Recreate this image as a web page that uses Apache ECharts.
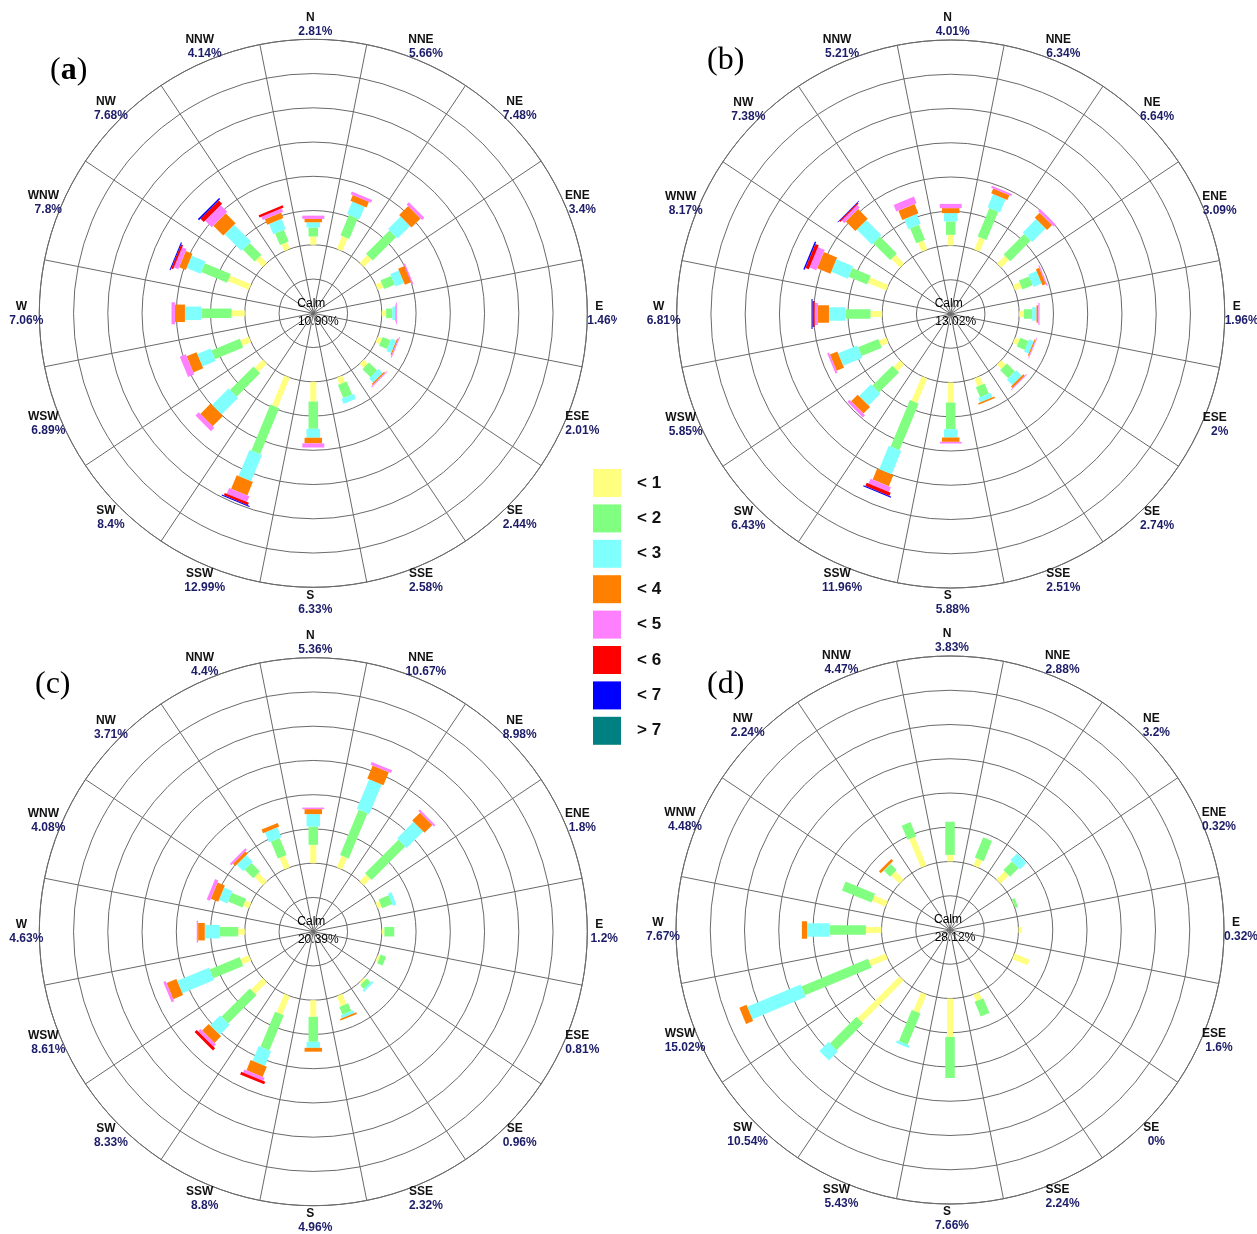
<!DOCTYPE html>
<html>
<head>
<meta charset="utf-8">
<script src="https://cdn.jsdelivr.net/npm/echarts@6/dist/echarts.min.js"></script>
<style>
  html, body { margin: 0; padding: 0; background: #ffffff; }
  #chart { width: 1257px; height: 1234px; }
</style>
</head>
<body>
<div id="chart"></div>
<script>
// 16 compass sectors, clockwise from north
const directions = ['N', 'NNE', 'NE', 'ENE', 'E', 'ESE', 'SE', 'SSE',
                    'S', 'SSW', 'SW', 'WSW', 'W', 'WNW', 'NW', 'NNW'];

// wind speed classes (m/s)
const speedClasses = ['< 1', '< 2', '< 3', '< 4', '< 5', '< 6', '< 7', '> 7'];

// frequency (%) per direction (rows, N..NNW) and speed class (columns)
const freqA = [
  [0.80, 0.87, 0.50, 0.32, 0.32, 0, 0, 0],
  [1.35, 2.13, 1.30, 0.60, 0.28, 0, 0, 0],
  [1.04, 3.20, 1.70, 1.23, 0.31, 0, 0, 0],
  [0.60, 1.10, 0.90, 0.65, 0.15, 0, 0, 0],
  [0.42, 0.60, 0.30, 0.06, 0.08, 0, 0, 0],
  [0.45, 0.85, 0.50, 0.11, 0.10, 0, 0, 0],
  [0.55, 1.10, 0.55, 0.14, 0.10, 0, 0, 0],
  [0.70, 1.35, 0.53, 0, 0, 0, 0, 0],
  [1.90, 2.63, 0.86, 0.54, 0.40, 0, 0, 0],
  [3.10, 4.80, 2.75, 1.40, 0.60, 0.25, 0.09, 0],
  [1.10, 3.20, 2.25, 1.40, 0.45, 0, 0, 0],
  [0.90, 2.95, 1.38, 1.03, 0.63, 0, 0, 0],
  [1.28, 2.89, 1.60, 0.96, 0.33, 0, 0, 0],
  [2.20, 2.70, 1.45, 0.70, 0.45, 0.20, 0.10, 0],
  [0.93, 1.60, 2.30, 1.35, 0.90, 0.45, 0.15, 0],
  [0.70, 1.22, 1.06, 0.58, 0.35, 0.23, 0, 0]
];
const freqB = [
  [1.03, 1.29, 0.80, 0.48, 0.41, 0, 0, 0],
  [1.30, 2.96, 1.38, 0.50, 0.20, 0, 0, 0],
  [1.06, 2.80, 1.83, 0.68, 0.27, 0, 0, 0],
  [0.70, 1.06, 0.87, 0.35, 0.11, 0, 0, 0],
  [0.45, 0.80, 0.42, 0.17, 0.12, 0, 0, 0],
  [0.48, 0.85, 0.47, 0.12, 0.08, 0, 0, 0],
  [0.60, 1.10, 0.75, 0.20, 0.09, 0, 0, 0],
  [0.85, 1.05, 0.45, 0.16, 0, 0, 0, 0],
  [1.93, 2.57, 0.80, 0.42, 0.16, 0, 0, 0],
  [2.57, 4.85, 2.44, 1.16, 0.50, 0.34, 0.10, 0],
  [0.90, 2.73, 1.60, 0.90, 0.30, 0, 0, 0],
  [0.78, 2.10, 2.00, 0.77, 0.20, 0, 0, 0],
  [1.13, 2.40, 1.60, 1.06, 0.32, 0.20, 0.10, 0],
  [1.93, 1.93, 1.74, 1.38, 0.70, 0.35, 0.14, 0],
  [1.20, 2.30, 2.05, 1.30, 0.35, 0.13, 0.05, 0],
  [0.96, 1.57, 1.03, 0.97, 0.68, 0, 0, 0]
];
const freqC = [
  [1.77, 1.77, 1.19, 0.48, 0.15, 0, 0, 0],
  [1.22, 4.72, 3.09, 1.35, 0.29, 0, 0, 0],
  [0.90, 4.57, 2.25, 1.06, 0.20, 0, 0, 0],
  [0.40, 1.05, 0.35, 0, 0, 0, 0, 0],
  [0.25, 0.95, 0, 0, 0, 0, 0, 0],
  [0.25, 0.56, 0, 0, 0, 0, 0, 0],
  [0.25, 0.50, 0.21, 0, 0, 0, 0, 0],
  [1.06, 0.80, 0.30, 0.16, 0, 0, 0, 0],
  [1.60, 2.41, 0.58, 0.37, 0, 0, 0, 0],
  [1.93, 3.66, 1.55, 1.06, 0.32, 0.28, 0, 0],
  [1.60, 3.86, 1.35, 0.90, 0.32, 0.30, 0, 0],
  [0.90, 3.12, 3.31, 1.03, 0.25, 0, 0, 0],
  [0.64, 1.77, 1.45, 0.64, 0.13, 0, 0, 0],
  [0.60, 1.50, 0.87, 0.77, 0.34, 0, 0, 0],
  [1.13, 1.16, 0.90, 0.32, 0.20, 0, 0, 0],
  [1.22, 1.77, 1.03, 0.38, 0, 0, 0, 0]
];
const freqD = [
  [0.64, 3.19, 0, 0, 0, 0, 0, 0],
  [0.77, 2.11, 0, 0, 0, 0, 0, 0],
  [1.13, 1.16, 0.91, 0, 0, 0, 0, 0],
  [0.05, 0.27, 0, 0, 0, 0, 0, 0],
  [0.32, 0, 0, 0, 0, 0, 0, 0],
  [1.60, 0, 0, 0, 0, 0, 0, 0],
  [0, 0, 0, 0, 0, 0, 0, 0],
  [0.70, 1.54, 0, 0, 0, 0, 0, 0],
  [3.70, 3.96, 0, 0, 0, 0, 0, 0],
  [1.93, 3.25, 0.25, 0, 0, 0, 0, 0],
  [5.69, 3.63, 1.22, 0, 0, 0, 0, 0],
  [1.77, 6.95, 5.56, 0.74, 0, 0, 0, 0],
  [1.51, 3.47, 2.19, 0.50, 0, 0, 0, 0],
  [1.41, 3.07, 0, 0, 0, 0, 0, 0],
  [1.13, 0.80, 0.05, 0.26, 0, 0, 0, 0],
  [3.00, 1.47, 0, 0, 0, 0, 0, 0]
];

// total frequency (%) per direction
const pctA = [2.81, 5.66, 7.48, 3.4, 1.46, 2.01, 2.44, 2.58, 6.33, 12.99, 8.4, 6.89, 7.06, 7.8, 7.68, 4.14];
const pctB = [4.01, 6.34, 6.64, 3.09, 1.96, 2, 2.74, 2.51, 5.88, 11.96, 6.43, 5.85, 6.81, 8.17, 7.38, 5.21];
const pctC = [5.36, 10.67, 8.98, 1.8, 1.2, 0.81, 0.96, 2.32, 4.96, 8.8, 8.33, 8.61, 4.63, 4.08, 3.71, 4.4];
const pctD = [3.83, 2.88, 3.2, 0.32, 0.32, 1.6, 0, 2.24, 7.66, 5.43, 10.54, 15.02, 7.67, 4.48, 2.24, 4.47];

// calm share (%) per rose
const calmPct = [10.90, 13.02, 20.39, 28.12];
const panelLetters = ['a', 'b', 'c', 'd'];

// ---- layout & style ----
const classColors = ['#ffff80', '#80ff80', '#80ffff', '#ff8000', '#ff80ff', '#ff0000', '#0000ff', '#008080'];
const classWidths = [6, 9.5, 13.5, 17.5, 22, 26, 30, 34];   // px, bars widen with speed
const RING = 3.3;                 // % per ring
const R_MIN = -2 * RING;          // bars start on the second ring
const R_MAX = 6 * RING;
const POLAR_RADIUS = 274;
const LABEL_R = 289;
const centers = [[313.3, 313.3], [950.7, 314], [313.3, 931.7], [950, 930]];
const letterPos = [[50, 71], [707, 61], [35, 685], [707, 685]];
const labelClipRight = [617, null, null, null];
const gridColor = '#6a6a6a';
const SANS = '"Liberation Sans", Arial, Helvetica, sans-serif';

const panels = [
  { freq: freqA, pct: pctA },
  { freq: freqB, pct: pctB },
  { freq: freqC, pct: pctC },
  { freq: freqD, pct: pctD }
];

function unitAt(api, i) {
  const c = api.coord([R_MIN, i]);
  const o = api.coord([R_MAX, i]);
  const L = Math.hypot(o[0] - c[0], o[1] - c[1]);
  return { c: c, ux: (o[0] - c[0]) / L, uy: (o[1] - c[1]) / L };
}

// straight-edged bar segment between two radial values
function segmentRenderer(width) {
  return function (params, api) {
    const i = api.value(0);
    const a = api.coord([api.value(1), i]);
    const b = api.coord([api.value(2), i]);
    const u = unitAt(api, i);
    const px = -u.uy * width / 2, py = u.ux * width / 2;
    return {
      type: 'polygon',
      shape: { points: [
        [a[0] + px, a[1] + py], [b[0] + px, b[1] + py],
        [b[0] - px, b[1] - py], [a[0] - px, a[1] - py]
      ] },
      style: { fill: api.visual('color') }
    };
  };
}

// direction name + share, centred just outside the rim
function labelRenderer(pct, clipRight) {
  return function (params, api) {
    const i = api.value(0);
    const u = unitAt(api, i);
    const x = u.c[0] + u.ux * LABEL_R;
    const y = u.c[1] + u.uy * LABEL_R;
    const group = {
      type: 'group',
      children: [
        { type: 'text', style: { text: directions[i], x: x - 3, y: y - 7, align: 'center', verticalAlign: 'middle',
            font: 'bold 12px ' + SANS, fill: '#111111' } },
        { type: 'text', style: { text: pct[i] + '%', x: x + 2, y: y + 7, align: 'center', verticalAlign: 'middle',
            font: 'bold 12px ' + SANS, fill: '#1c1c68' } }
      ]
    };
    if (clipRight != null) {
      group.clipPath = { type: 'rect', shape: { x: 0, y: 0, width: clipRight, height: 2000 } };
    }
    return group;
  };
}

const polar = [], angleAxis = [], radiusAxis = [], series = [], graphic = [];

panels.forEach(function (p, k) {
  polar.push({ center: centers[k], radius: POLAR_RADIUS });
  angleAxis.push({
    polarIndex: k, type: 'category', data: directions,
    startAngle: 90 + 11.25, clockwise: true, boundaryGap: true,
    axisLine: { lineStyle: { color: gridColor, width: 1 } },
    axisTick: { show: false }, axisLabel: { show: false },
    splitLine: { show: true, lineStyle: { color: gridColor, width: 1 } }
  });
  radiusAxis.push({
    polarIndex: k, type: 'value', min: R_MIN, max: R_MAX, interval: RING,
    axisLine: { show: false }, axisTick: { show: false }, axisLabel: { show: false },
    splitLine: { show: true, lineStyle: { color: gridColor, width: 1 } }
  });

  // stacked speed classes, one series per class
  speedClasses.forEach(function (name, c) {
    const segs = [];
    p.freq.forEach(function (row, i) {
      let base = 0;
      for (let j = 0; j < c; j++) base += row[j];
      if (row[c] > 0) segs.push([i, base, base + row[c]]);
    });
    series.push({
      type: 'custom', name: name, coordinateSystem: 'polar', polarIndex: k,
      itemStyle: { color: classColors[c] },
      encode: { angle: 0, radius: [1, 2] },
      renderItem: segmentRenderer(classWidths[c]),
      data: segs, silent: true, animation: false, z: 3
    });
  });

  series.push({
    type: 'custom', name: 'labels' + k, coordinateSystem: 'polar', polarIndex: k,
    encode: { angle: 0, radius: 1 },
    renderItem: labelRenderer(p.pct, labelClipRight[k]),
    data: directions.map(function (d, i) { return [i, R_MAX]; }),
    silent: true, animation: false, z: 4
  });

  graphic.push({
    type: 'text', x: centers[k][0] - 2, y: centers[k][1] - 10,
    style: { text: 'Calm', font: '12px ' + SANS, fill: '#000', align: 'center', verticalAlign: 'middle' }, z: 10
  });
  graphic.push({
    type: 'text', x: centers[k][0] + 5, y: centers[k][1] + 8,
    style: { text: calmPct[k].toFixed(2) + '%', font: '12px ' + SANS, fill: '#000', align: 'center', verticalAlign: 'middle' }, z: 10
  });
  graphic.push({
    type: 'text', x: letterPos[k][0], y: letterPos[k][1],
    style: {
      text: '(' + '{l|' + panelLetters[k] + '})',
      font: '32px "Liberation Serif", "Times New Roman", serif', fill: '#000',
      align: 'left', verticalAlign: 'middle',
      rich: { l: { font: (k === 0 ? 'bold ' : '') + '32px "Liberation Serif", "Times New Roman", serif', fill: '#000' } }
    }, z: 10
  });
});

const chart = echarts.init(document.getElementById('chart'), null, { renderer: 'canvas' });
chart.setOption({
  backgroundColor: '#ffffff',
  animation: false,
  polar: polar,
  angleAxis: angleAxis,
  radiusAxis: radiusAxis,
  legend: {
    data: speedClasses, orient: 'vertical', left: 593, top: 469, padding: 0,
    icon: 'rect', itemWidth: 28, itemHeight: 28, itemGap: 7.4,
    selectedMode: false,
    textStyle: { fontFamily: SANS, fontSize: 17, fontWeight: 'bold', color: '#111', padding: [0, 0, 0, 11] }
  },
  graphic: graphic,
  series: series
});
</script>
</body>
</html>
